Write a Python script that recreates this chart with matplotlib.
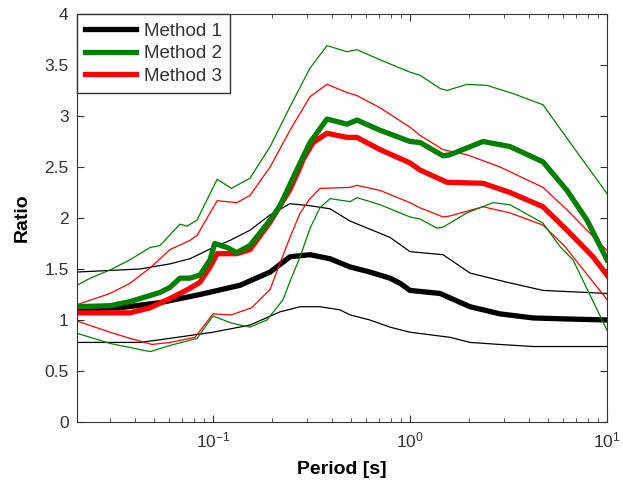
import matplotlib
matplotlib.use('Agg')
import matplotlib.pyplot as plt
from matplotlib.ticker import FixedLocator, FixedFormatter

plt.rcParams['font.family'] = ['Liberation Sans', 'DejaVu Sans']
plt.rcParams['mathtext.fontset'] = 'custom'
plt.rcParams['mathtext.rm'] = 'Liberation Sans'

# Method 1 (black)
m1_mean_T = [0.0204, 0.0337, 0.0538, 0.0859, 0.137, 0.195, 0.246, 0.311, 0.393, 0.496,
             0.626, 0.791, 0.89, 1.0, 1.42, 2.017, 2.863, 4.209, 6.265, 10.0]
m1_mean = [1.11, 1.12, 1.17, 1.25, 1.34, 1.47, 1.62, 1.64, 1.60, 1.52,
           1.47, 1.41, 1.36, 1.29, 1.26, 1.13, 1.06, 1.02, 1.01, 1.00]
m1_hi_T = [0.0204, 0.0426, 0.0605, 0.0763, 0.1, 0.122, 0.154, 0.195, 0.246, 0.311,
           0.393, 0.496, 0.626, 0.791, 1.0, 1.471, 2.017, 3.107, 4.733, 10.0]
m1_hi = [1.47, 1.50, 1.55, 1.60, 1.71, 1.78, 1.88, 2.03, 2.14, 2.12,
         2.09, 1.97, 1.89, 1.81, 1.67, 1.64, 1.46, 1.37, 1.29, 1.26]
m1_lo_T = [0.0204, 0.0426, 0.0605, 0.1, 0.154, 0.219, 0.277, 0.349, 0.44, 0.496,
           0.626, 0.791, 1.0, 1.596, 2.017, 2.863, 4.209, 10.0]
m1_lo = [0.78, 0.78, 0.82, 0.88, 0.95, 1.08, 1.13, 1.13, 1.10, 1.05,
         1.00, 0.93, 0.88, 0.83, 0.78, 0.76, 0.74, 0.74]

# Method 2 (green)
m2_mean_T = [0.0204, 0.030, 0.0379, 0.0479, 0.0538, 0.0605, 0.068, 0.0763, 0.0859, 0.0966,
             0.102, 0.118, 0.132, 0.154, 0.195, 0.219, 0.246, 0.277, 0.311, 0.379,
             0.479, 0.538, 0.705, 1.0, 1.124, 1.471, 1.596, 2.349, 3.219, 4.733,
             6.265, 7.913, 10.0]
m2_mean = [1.13, 1.14, 1.18, 1.24, 1.27, 1.32, 1.41, 1.41, 1.44, 1.59,
           1.75, 1.71, 1.66, 1.73, 1.98, 2.12, 2.33, 2.54, 2.74, 2.97,
           2.92, 2.96, 2.86, 2.75, 2.74, 2.61, 2.62, 2.75, 2.70, 2.55,
           2.27, 1.98, 1.59]
m2_hi_T = [0.0204, 0.0238, 0.030, 0.0379, 0.0479, 0.0538, 0.068, 0.0738, 0.083, 0.105,
           0.124, 0.154, 0.195, 0.246, 0.311, 0.379, 0.479, 0.538, 0.705, 1.0,
           1.124, 1.42, 1.541, 1.946, 2.46, 3.335, 4.733, 6.491, 10.0]
m2_hi = [1.34, 1.41, 1.49, 1.59, 1.71, 1.73, 1.94, 1.92, 1.98, 2.38,
         2.29, 2.39, 2.70, 3.09, 3.47, 3.69, 3.63, 3.65, 3.55, 3.43,
         3.40, 3.27, 3.25, 3.31, 3.30, 3.22, 3.11, 2.74, 2.24]
m2_lo_T = [0.0204, 0.030, 0.048, 0.0605, 0.083, 0.1, 0.124, 0.154, 0.188, 0.227,
           0.246, 0.277, 0.311, 0.349, 0.393, 0.496, 0.538, 0.705, 1.0, 1.124,
           1.371, 1.471, 1.946, 2.637, 3.219, 4.733, 5.771, 6.72, 10.0]
m2_lo = [0.87, 0.77, 0.69, 0.75, 0.82, 1.04, 0.97, 0.93, 1.00, 1.20,
         1.38, 1.62, 1.90, 2.10, 2.19, 2.16, 2.20, 2.13, 2.01, 1.99,
         1.90, 1.91, 2.05, 2.15, 2.13, 1.95, 1.72, 1.59, 0.90]

# Method 3 (red)
m3_mean_T = [0.0204, 0.0379, 0.0479, 0.0605, 0.0763, 0.0859, 0.0966, 0.105, 0.132, 0.154,
             0.195, 0.246, 0.277, 0.286, 0.322, 0.379, 0.479, 0.538, 0.705, 1.0,
             1.124, 1.541, 2.349, 3.219, 4.733, 6.265, 8.49, 10.0]
m3_mean = [1.07, 1.07, 1.12, 1.21, 1.31, 1.37, 1.52, 1.65, 1.65, 1.69,
           1.96, 2.28, 2.50, 2.57, 2.74, 2.83, 2.79, 2.79, 2.67, 2.54,
           2.47, 2.35, 2.34, 2.25, 2.11, 1.88, 1.62, 1.44]
m3_hi_T = [0.0204, 0.030, 0.0379, 0.0479, 0.0605, 0.0763, 0.083, 0.105, 0.132, 0.154,
           0.195, 0.246, 0.311, 0.379, 0.479, 0.538, 0.705, 1.0, 1.124, 1.471,
           1.946, 2.863, 4.733, 6.265, 7.913, 10.0]
m3_hi = [1.15, 1.26, 1.36, 1.51, 1.69, 1.78, 1.83, 2.17, 2.15, 2.22,
         2.50, 2.86, 3.19, 3.31, 3.23, 3.20, 3.08, 2.89, 2.81, 2.67,
         2.62, 2.50, 2.30, 2.08, 1.88, 1.68]
m3_lo_T = [0.0204, 0.030, 0.0379, 0.049, 0.0605, 0.081, 0.1, 0.124, 0.157, 0.195,
           0.219, 0.246, 0.277, 0.311, 0.349, 0.496, 0.538, 0.705, 1.0, 1.124,
           1.471, 1.596, 2.349, 3.219, 4.733, 6.12, 10.0]
m3_lo = [0.99, 0.88, 0.82, 0.76, 0.78, 0.83, 1.06, 1.05, 1.12, 1.30,
         1.56, 1.81, 2.05, 2.19, 2.29, 2.30, 2.32, 2.27, 2.15, 2.10,
         2.01, 2.02, 2.11, 2.05, 1.93, 1.72, 1.20]

labels = ['Method 1', 'Method 2', 'Method 3']
ytick_vals = [0, 0.5, 1, 1.5, 2, 2.5, 3, 3.5, 4]
ytick_labels = ['0', '0.5', '1', '1.5', '2', '2.5', '3', '3.5', '4']

fig = plt.figure(figsize=(6.23, 4.87), dpi=100)
ax = fig.add_axes([0.1236, 0.1335, 0.8507, 0.8378])

thin = 0.9
thick = 3.8

# black
ax.plot(m1_hi_T, m1_hi, color='black', lw=thin)
ax.plot(m1_lo_T, m1_lo, color='black', lw=thin)
h1, = ax.plot(m1_mean_T, m1_mean, color='black', lw=thick)

# red
ax.plot(m3_hi_T, m3_hi, color='red', lw=thin)
ax.plot(m3_lo_T, m3_lo, color='red', lw=thin)
h3, = ax.plot(m3_mean_T, m3_mean, color='red', lw=thick)

# green
ax.plot(m2_hi_T, m2_hi, color='green', lw=thin)
ax.plot(m2_lo_T, m2_lo, color='green', lw=thin)
h2, = ax.plot(m2_mean_T, m2_mean, color='green', lw=thick)

ax.set_xscale('log')
ax.set_xlim(0.0204, 10)
ax.set_ylim(0, 4)
ax.yaxis.set_major_locator(FixedLocator(ytick_vals))
ax.yaxis.set_major_formatter(FixedFormatter(ytick_labels))

ax.tick_params(which='both', direction='in', top=True, right=True,
               colors='#333333', labelsize=12.5, pad=6)
ax.tick_params(which='major', length=5)
ax.tick_params(which='minor', length=3)
for sp in ax.spines.values():
    sp.set_color('#333333')

ax.set_xlabel('Period [s]', fontsize=14, fontweight='bold', labelpad=8)
ax.set_ylabel('Ratio', fontsize=14, fontweight='bold', labelpad=10)

leg = ax.legend([h1, h2, h3], labels, loc='upper left', borderaxespad=0,
                fancybox=False, edgecolor='#333333', framealpha=1,
                fontsize=13.5, handlelength=2.7, handletextpad=0.4,
                borderpad=0.45, labelspacing=0.3)
leg.get_frame().set_linewidth(1.0)
for t in leg.get_texts():
    t.set_color('#333333')

fig.savefig('out.png', dpi=100)
